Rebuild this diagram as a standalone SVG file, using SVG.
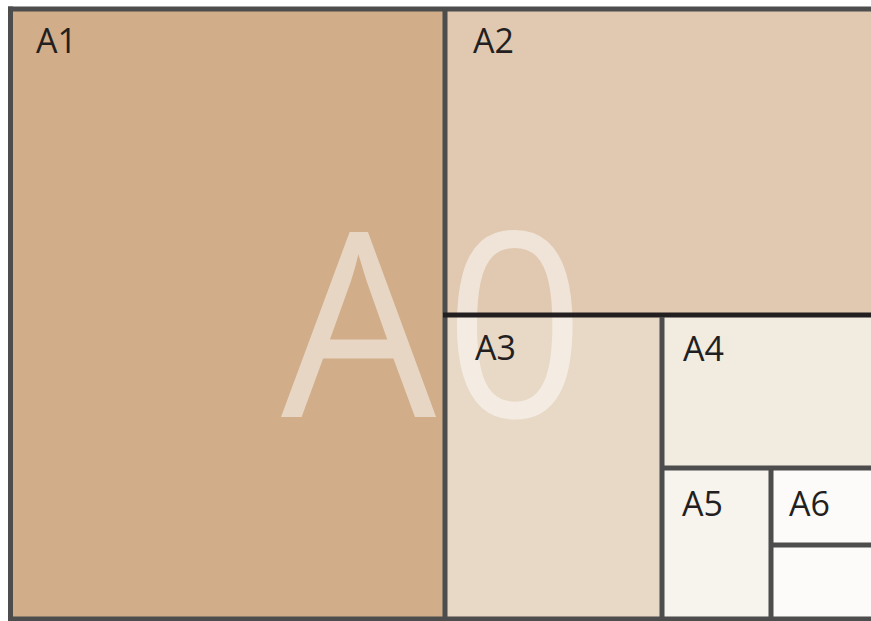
<svg xmlns="http://www.w3.org/2000/svg" width="871" height="621" viewBox="0 0 871 621">
<style>
.lbl{font-family:"Open Sans","Noto Sans",sans-serif;font-size:34px;fill:#231f20}
.big{font-family:"Open Sans","Noto Sans",sans-serif;font-size:258px;fill:#ffffff;fill-opacity:0.5}
.ln{stroke:#4d4d4d;stroke-width:5;fill:none}
.blk{stroke:#231f20;stroke-width:5;fill:none}
</style>
<rect x="0" y="0" width="871" height="621" fill="#ffffff"/>
<g id="A1"><rect x="10" y="9" width="435" height="610" fill="#d1ad8a"/><text class="lbl" x="36" y="52.5">A1</text></g>
<g id="A2"><rect x="445" y="9" width="426" height="306" fill="#e1c9b1"/><text class="lbl" x="473" y="53">A2</text></g>
<g id="A3"><rect x="445" y="315" width="217" height="304" fill="#e8d9c6"/></g>
<g id="A4"><rect x="662" y="315" width="209" height="153" fill="#f2ebe0"/><text class="lbl" x="683" y="360.5">A4</text></g>
<g id="A5"><rect x="662" y="468" width="109" height="151" fill="#f7f3ed"/><text class="lbl" x="682" y="515.5">A5</text></g>
<g id="A6"><rect x="771" y="468" width="100" height="151" fill="#fcfbf9"/><text class="lbl" x="789" y="515.5">A6</text></g>
<g id="A0"><text class="big" transform="scale(0.952 1)" x="295.2 467" y="417">A0</text></g>
<g id="A3-label"><text class="lbl" x="475" y="360">A3</text></g>
<g id="lines">
<line class="ln" x1="10.5" y1="6.5" x2="10.5" y2="621"/>
<line class="ln" x1="8" y1="9" x2="871" y2="9"/>
<line class="ln" x1="8" y1="619" x2="871" y2="619"/>
<line class="ln" x1="445" y1="9" x2="445" y2="619"/>
<line class="blk" x1="443" y1="315" x2="871" y2="315"/>
<line class="ln" x1="662" y1="317" x2="662" y2="619"/>
<line class="ln" x1="662" y1="468" x2="871" y2="468"/>
<line class="ln" x1="771" y1="468" x2="771" y2="619"/>
<line class="ln" x1="771" y1="545" x2="871" y2="545"/>
</g>
</svg>
